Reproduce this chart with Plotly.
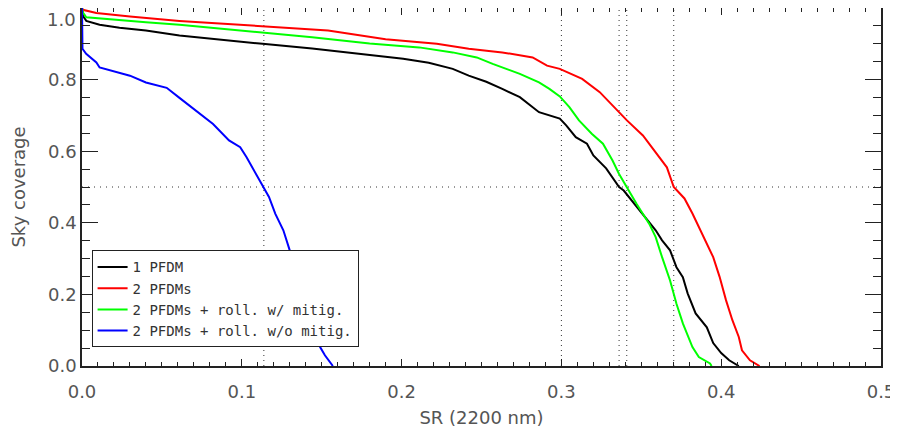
import plotly.graph_objects as go

# ---- data ----
black_x = [0, 0.001, 0.0027, 0.011, 0.0235, 0.040, 0.061, 0.082, 0.113, 0.144, 0.180, 0.201, 0.217,
           0.232, 0.242, 0.253, 0.263, 0.274, 0.286, 0.299, 0.303, 0.309, 0.316, 0.320, 0.328, 0.3361,
           0.339, 0.344, 0.353, 0.359, 0.363, 0.368, 0.372, 0.376, 0.379, 0.384, 0.391, 0.395, 0.400,
           0.405, 0.411]
black_y = [1.0, 0.975, 0.964, 0.953, 0.945, 0.937, 0.923, 0.913, 0.900, 0.887, 0.869, 0.858, 0.847,
           0.830, 0.811, 0.794, 0.774, 0.751, 0.709, 0.691, 0.672, 0.639, 0.621, 0.588, 0.552, 0.500,
           0.490, 0.463, 0.412, 0.379, 0.351, 0.323, 0.276, 0.248, 0.203, 0.147, 0.108, 0.064, 0.036,
           0.016, 0.0]

red_x = [0, 0.0005, 0.009, 0.030, 0.061, 0.092, 0.124, 0.154, 0.190, 0.222, 0.242, 0.263, 0.282,
         0.291, 0.299, 0.313, 0.324, 0.334, 0.341, 0.351, 0.359, 0.366, 0.3703, 0.377, 0.382, 0.388,
         0.395, 0.399, 0.403, 0.407, 0.411, 0.413, 0.418, 0.424]
red_y = [1.0, 0.995, 0.986, 0.976, 0.964, 0.955, 0.946, 0.937, 0.913, 0.900, 0.886, 0.876, 0.862,
         0.839, 0.830, 0.802, 0.765, 0.718, 0.686, 0.644, 0.597, 0.555, 0.500, 0.468, 0.426, 0.370,
         0.304, 0.249, 0.184, 0.128, 0.081, 0.044, 0.016, 0.0]

green_x = [0, 0.0005, 0.0027, 0.019, 0.040, 0.061, 0.082, 0.113, 0.144, 0.180, 0.211, 0.232, 0.247,
           0.257, 0.274, 0.286, 0.2925, 0.299, 0.305, 0.311, 0.319, 0.326, 0.332, 0.336, 0.3409, 0.347,
           0.355, 0.359, 0.363, 0.368, 0.372, 0.376, 0.382, 0.386, 0.393, 0.394]
green_y = [1.0, 0.988, 0.974, 0.967, 0.960, 0.953, 0.944, 0.932, 0.918, 0.901, 0.890, 0.876, 0.862,
           0.844, 0.816, 0.792, 0.774, 0.753, 0.723, 0.686, 0.649, 0.621, 0.574, 0.537, 0.500, 0.453,
           0.397, 0.360, 0.304, 0.239, 0.174, 0.119, 0.053, 0.025, 0.007, 0.0]

blue_x = [0, 0.0003, 0.0026, 0.009, 0.011, 0.019, 0.030, 0.040, 0.053, 0.061, 0.071, 0.082, 0.092,
          0.099, 0.103, 0.109, 0.1138, 0.117, 0.121, 0.126, 0.130, 0.134, 0.140, 0.145, 0.149, 0.152,
          0.157]
blue_y = [1.0, 0.886, 0.872, 0.848, 0.834, 0.825, 0.811, 0.792, 0.777, 0.749, 0.714, 0.676, 0.630,
          0.611, 0.583, 0.537, 0.500, 0.472, 0.425, 0.379, 0.323, 0.276, 0.200, 0.120, 0.053, 0.030,
          0.0]

series_names = ["1 PFDM", "2 PFDMs", "2 PFDMs + roll. w/ mitig.", "2 PFDMs + roll. w/o mitig."]
series_colors = ["#000000", "#ff0000", "#00ff00", "#0000ff"]

vline_x = [0.1138, 0.3, 0.3361, 0.3409, 0.3703]
hline_y = [0.5]

x_ticks = [0.0, 0.1, 0.2, 0.3, 0.4, 0.5]
y_ticks = [0.0, 0.2, 0.4, 0.6, 0.8, 1.0]

TXT = "#555555"
FONT = "DejaVu Sans"

fig = go.Figure()

for xv in vline_x:
    fig.add_vline(x=xv, line=dict(color="#333333", width=1, dash="1px,4px"), layer="below")
for yv in hline_y:
    fig.add_hline(y=yv, line=dict(color="#333333", width=1, dash="1px,5px"), layer="below")

for xs, ys, nm, col in zip([black_x, red_x, green_x, blue_x], [black_y, red_y, green_y, blue_y],
                           series_names, series_colors):
    fig.add_trace(go.Scatter(x=xs, y=ys, mode="lines", name=nm,
                             line=dict(color=col, width=2)))

tickfont = dict(family=FONT, size=18, color=TXT)
y_text = [f"{v:.1f}" for v in y_ticks]

fig.update_xaxes(range=[0, 0.5], tickvals=x_ticks, ticktext=[f"{v:.1f}" for v in x_ticks],
                 ticks="inside", ticklen=7, tickwidth=1, tickcolor="#222222",
                 minor=dict(dtick=0.01, ticks="inside", ticklen=4, tickcolor="#222222", showgrid=False),
                 showline=True, linecolor="#222222", linewidth=1.5, mirror="ticks",
                 showgrid=False, zeroline=False, tickfont=tickfont, automargin=False,
                 ticklabelstandoff=9,
                 title=dict(text="SR (2200 nm)", font=dict(family=FONT, size=18, color=TXT),
                            standoff=13))
fig.update_yaxes(range=[0, 1.0], tickvals=y_ticks, ticktext=y_text[:-1] + [""],
                 ticks="inside", ticklen=16, tickwidth=1, tickcolor="#222222",
                 minor=dict(dtick=0.05, ticks="inside", ticklen=8, tickcolor="#222222", showgrid=False),
                 showline=True, linecolor="#222222", linewidth=1.5, mirror="ticks",
                 showgrid=False, zeroline=False, tickfont=tickfont, automargin=False,
                 title=dict(text="Sky coverage", font=dict(family=FONT, size=18, color=TXT),
                            standoff=22))

# top y label sits just under the frame top in the reference
fig.add_annotation(x=0, y=y_ticks[-1], xref="x", yref="y", text=y_text[-1], showarrow=False,
                   xanchor="right", yanchor="top", xshift=-5, yshift=0, borderpad=0,
                   font=tickfont)

fig.update_layout(
    width=890, height=420,
    margin=dict(l=74, r=17, t=0, b=62),
    plot_bgcolor="white", paper_bgcolor="white",
    showlegend=True,
    legend=dict(x=0.012, y=0.052, xanchor="left", yanchor="bottom",
                bgcolor="white", bordercolor="#222222", borderwidth=1,
                font=dict(family="DejaVu Sans Mono", size=14, color="#333333"),
                tracegroupgap=0, itemwidth=30),
)

fig.write_html("out.html")
